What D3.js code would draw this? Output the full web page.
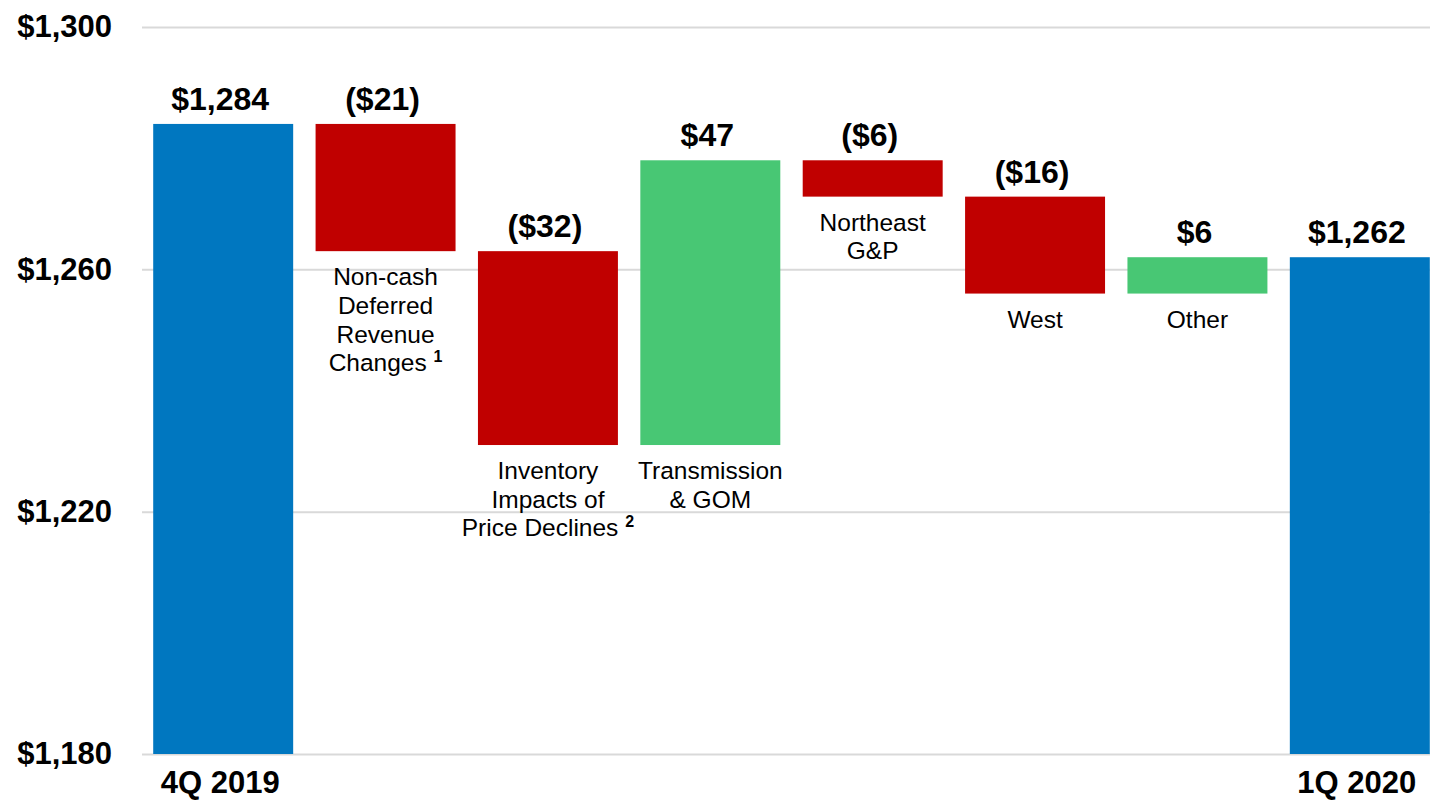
<!DOCTYPE html>
<html>
<head>
<meta charset="utf-8">
<script src="https://cdn.jsdelivr.net/npm/d3@7"></script>
<style>
  body { margin: 0; background: #fff; }
  svg { display: block; font-family: "Liberation Sans", Arial, sans-serif; }
  .tick text { font-weight: bold; font-size: 31px; fill: #000; }
  .tick line { stroke: #d9d9d9; stroke-width: 2; }
  .value-label { font-weight: bold; font-size: 32px; text-anchor: middle; }
  .cat-label { font-size: 24.5px; text-anchor: middle; }
  .end-label { font-weight: bold; font-size: 31px; text-anchor: middle; }
</style>
</head>
<body>
<div id="chart"></div>
<script>
// Waterfall data (millions $)
const categories = ['4Q 2019', 'Non-cash', 'Inventory', 'Transmission', 'Northeast', 'West', 'Other', '1Q 2020'];
const values = [1284, -21, -32, 47, -6, -16, 6, 1262];
const isTotal = [true, false, false, false, false, false, false, true];
const valueLabels = ['$1,284', '($21)', '($32)', '$47', '($6)', '($16)', '$6', '$1,262'];
// lines of the label under each step bar, with optional footnote
const catLines = [
  [],
  ['Non-cash', 'Deferred', 'Revenue', 'Changes'],
  ['Inventory', 'Impacts of', 'Price Declines'],
  ['Transmission', '& GOM'],
  ['Northeast', 'G&P'],
  ['West'],
  ['Other'],
  []
];
const footnotes = ['', '1', '2', '', '', '', '', ''];
const yTicks = [1180, 1220, 1260, 1300];

const width = 1430, height = 801;
const margin = {top: 27, left: 142, right: 0, bottom: 47};

const svg = d3.select('#chart').append('svg')
    .attr('width', width)
    .attr('height', height);

// compute start / end for each bar
let running = 0;
const bars = categories.map((c, i) => {
  let y0, y1;
  if (isTotal[i]) {
    y0 = 1180; y1 = values[i];
    running = values[i];
  } else {
    y0 = running; y1 = running + values[i];
    running = y1;
  }
  return {cat: c, i: i, lo: Math.min(y0, y1), hi: Math.max(y0, y1), value: values[i], total: isTotal[i]};
});

const xScale = d3.scaleBand()
    .domain(categories)
    .range([margin.left, 1441])
    .paddingInner(0.138)
    .paddingOuter(0.069);

const yScale = d3.scaleLinear()
    .domain([1180, 1300])
    .range([height - margin.bottom, margin.top]);

// y axis with gridlines
const yAxis = d3.axisLeft(yScale)
    .tickValues(yTicks)
    .tickSize(-(width - margin.left))
    .tickPadding(30)
    .tickFormat(d => '$' + d3.format(',')(d));

svg.append('g')
    .attr('class', 'axis y-axis')
    .attr('transform', `translate(${margin.left},0)`)
    .call(yAxis)
    .call(g => g.select('.domain').remove());

const colour = d => d.total ? '#0077c0' : (d.value < 0 ? '#c00000' : '#48c774');

svg.selectAll('.bar')
    .data(bars)
    .join('rect')
    .attr('class', 'bar')
    .attr('x', d => xScale(d.cat))
    .attr('y', d => yScale(d.hi))
    .attr('width', xScale.bandwidth())
    .attr('height', d => yScale(d.lo) - yScale(d.hi))
    .attr('fill', colour);

// value labels above bars
svg.selectAll('.value-label')
    .data(bars)
    .join('text')
    .attr('class', 'value-label')
    .attr('x', d => xScale(d.cat) + xScale.bandwidth() / 2 - 3)
    .attr('y', d => yScale(d.hi) - 14)
    .text(d => valueLabels[d.i]);

// category labels under the step bars
const catG = svg.selectAll('.cat-label')
    .data(bars.filter(d => !d.total))
    .join('text')
    .attr('class', 'cat-label')
    .attr('x', d => xScale(d.cat) + xScale.bandwidth() / 2)
    .attr('y', d => yScale(d.lo) + 34);

catG.each(function(d) {
  const t = d3.select(this);
  const lines = catLines[d.i];
  lines.forEach((line, k) => {
    const ts = t.append('tspan')
        .attr('x', xScale(d.cat) + xScale.bandwidth() / 2)
        .attr('dy', k === 0 ? 0 : 28.7)
        .text(line);
    if (k === lines.length - 1 && footnotes[d.i]) {
      ts.text(line + ' ');
      t.append('tspan')
          .attr('font-size', 16)
          .attr('font-weight', 'bold')
          .attr('dy', -9)
          .text(footnotes[d.i]);
    }
  });
});

// period labels under the total bars
svg.selectAll('.end-label')
    .data(bars.filter(d => d.total))
    .join('text')
    .attr('class', 'end-label')
    .attr('x', d => xScale(d.cat) + xScale.bandwidth() / 2 - 3)
    .attr('y', height - 8)
    .text(d => d.cat);
</script>
</body>
</html>
